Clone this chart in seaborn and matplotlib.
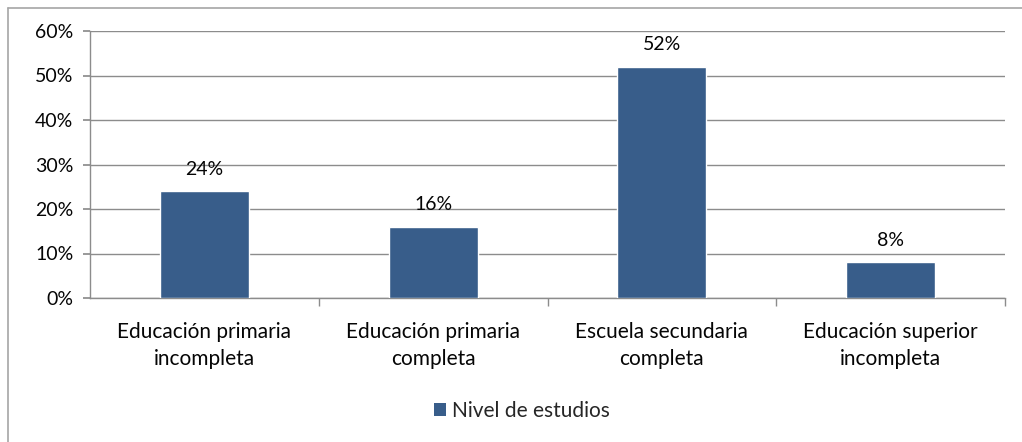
import matplotlib
matplotlib.use("Agg")
import matplotlib.pyplot as plt
from matplotlib.lines import Line2D
from matplotlib.patches import Patch
from matplotlib.ticker import PercentFormatter, MultipleLocator
import seaborn as sns
import pandas as pd

categorias = [
    "Educación primaria\nincompleta",
    "Educación primaria\ncompleta",
    "Escuela secundaria\ncompleta",
    "Educación superior\nincompleta",
]
porcentajes = [24, 16, 52, 8]
serie = "Nivel de estudios"
color_barra = "#385D8A"

df = pd.DataFrame({"categoria": categorias, "valor": porcentajes})

sns.set_theme(style="white")
plt.rcParams["font.family"] = ["Lato", "DejaVu Sans"]

W, H = 1022, 442
fig = plt.figure(figsize=(W / 100, H / 100), dpi=100)
ax = fig.add_axes([90 / W, 1 - 298 / H, (1005 - 90) / W, (298 - 31) / H])

sns.barplot(data=df, x="categoria", y="valor", color=color_barra,
            width=0.39, saturation=1, ax=ax, zorder=3)

ax.set_ylim(0, 60)
ax.set_xlim(-0.5, len(categorias) - 0.5)
ax.yaxis.set_major_locator(MultipleLocator(10))
ax.yaxis.set_major_formatter(PercentFormatter(decimals=0))
ax.grid(axis="y", color="#8c8c8c", linewidth=1.0, zorder=0)
ax.set_xlabel("")
ax.set_ylabel("")

for side in ("top", "right"):
    ax.spines[side].set_visible(False)
for side in ("left", "bottom"):
    ax.spines[side].set_color("#8c8c8c")
    ax.spines[side].set_linewidth(1.0)

txt_color = "#050505"
ax.tick_params(axis="y", which="major", left=True, length=5, color="#8c8c8c",
               labelsize=14, labelcolor=txt_color, pad=7)
ax.tick_params(axis="x", which="major", bottom=False, labelcolor=txt_color, pad=11)
# separator ticks between categories
ax.set_xticks([i + 0.5 for i in range(len(categorias))], minor=True)
ax.tick_params(axis="x", which="minor", bottom=True, length=6,
               color="#8c8c8c", width=1.0)
ax.set_xticklabels(categorias, fontsize=15, linespacing=1.45)

for i, v in enumerate(porcentajes):
    ax.text(i, v + 3.0, f"{v}%", ha="center", va="bottom",
            fontsize=14, color=txt_color, zorder=4)

handle = Patch(facecolor=color_barra, edgecolor="none")
fig.legend([handle], [serie], loc="center", bbox_to_anchor=(522 / W, 1 - 411 / H),
           frameon=False, prop={"size": 15},
           handlelength=0.55, handleheight=0.55, handletextpad=0.3)

# outer chart frame (top and left edges)
fig.add_artist(Line2D([8 / W, 1], [1 - 8 / H, 1 - 8 / H], transform=fig.transFigure,
                      color="#a6a6a6", linewidth=1.2))
fig.add_artist(Line2D([8 / W, 8 / W], [0, 1 - 8 / H], transform=fig.transFigure,
                      color="#a6a6a6", linewidth=1.2))

fig.savefig("out.png", dpi=100, facecolor="white")
